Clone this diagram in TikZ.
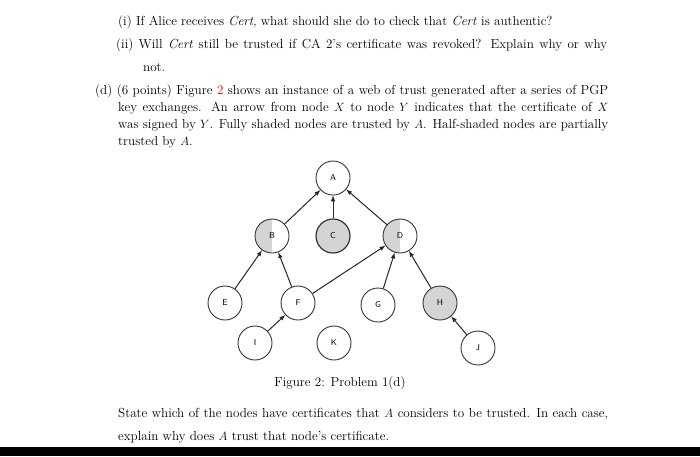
\documentclass[tikz,border=0pt]{standalone}
\usepackage{xcolor}
\begin{document}
\begin{tikzpicture}[x=1pt,y=-1pt,
  nd/.style={circle,draw=black!80,line width=0.9pt,minimum size=34pt,inner sep=0pt,font=\sffamily\fontsize{8.5}{8.5}\selectfont,fill=white},
  full/.style={nd,fill=black!17},
  half/.style={nd,path picture={\fill[black!17](path picture bounding box.south west) rectangle (path picture bounding box.north);}},
  ar/.style={-latex,line width=1pt,black!85},
  tx/.style={anchor=west,inner sep=0pt,font=\fontsize{13.1}{14}\selectfont}]
\useasboundingbox (0,0) rectangle (700,456);
\fill[white] (0,0) rectangle (700,456);
\fill[black] (0,447) rectangle (700,456);
\node[tx] (l1) at (118,22) {(i) If Alice receives \emph{Cert}, what should she do to check that \emph{Cert} is authentic?};
\node[tx] (l2) at (116,45) {\hbox to 491pt{(ii) Will \emph{Cert} still be trusted if CA 2's certificate was revoked? Explain why or why}};
\node[tx] (l3) at (143,68) {not.};
\node[tx] (l4) at (95,91) {\hbox to 513pt{(d) (6 points) Figure \textcolor{red}{2} shows an instance of a web of trust generated after a series of PGP}};
\node[tx] (l5) at (118,108) {\hbox to 490pt{key exchanges. An arrow from node $X$ to node $Y$ indicates that the certificate of $X$}};
\node[tx] (l6) at (118,125) {\hbox to 490pt{was signed by $Y$. Fully shaded nodes are trusted by $A$. Half-shaded nodes are partially}};
\node[tx] (l7) at (118,142) {trusted by $A$.};
\node[tx,anchor=center] (cap) at (340,383) {Figure 2: Problem 1(d)};
\node[tx] (l8) at (118,414) {\hbox to 490pt{State which of the nodes have certificates that $A$ considers to be trusted. In each case,}};
\node[tx] (l9) at (118,437) {explain why does $A$ trust that node's certificate.};

\node[nd] (A) at (333,178) {A};
\node[half] (B) at (272,236) {B};
\node[full,line width=1.2pt] (C) at (333,236) {C};
\node[half] (D) at (400,236) {D};
\node[nd] (E) at (225,303) {E};
\node[nd] (F) at (298,303) {F};
\node[nd] (G) at (378,305) {G};
\node[full] (H) at (440,303) {H};
\node[nd] (I) at (255,343) {I};
\node[nd] (K) at (334,343) {K};
\node[nd] (J) at (478,348) {J};
\draw[ar] (B)--(A);
\draw[ar] (C)--(A);
\draw[ar] (D)--(A);
\draw[ar] (E)--(B);
\draw[ar] (F)--(B);
\draw[ar] (F)--(D);
\draw[ar] (G)--(D);
\draw[ar] (H)--(D);
\draw[ar] (I)--(F);
\draw[ar] (J)--(H);
\end{tikzpicture}
\end{document}
